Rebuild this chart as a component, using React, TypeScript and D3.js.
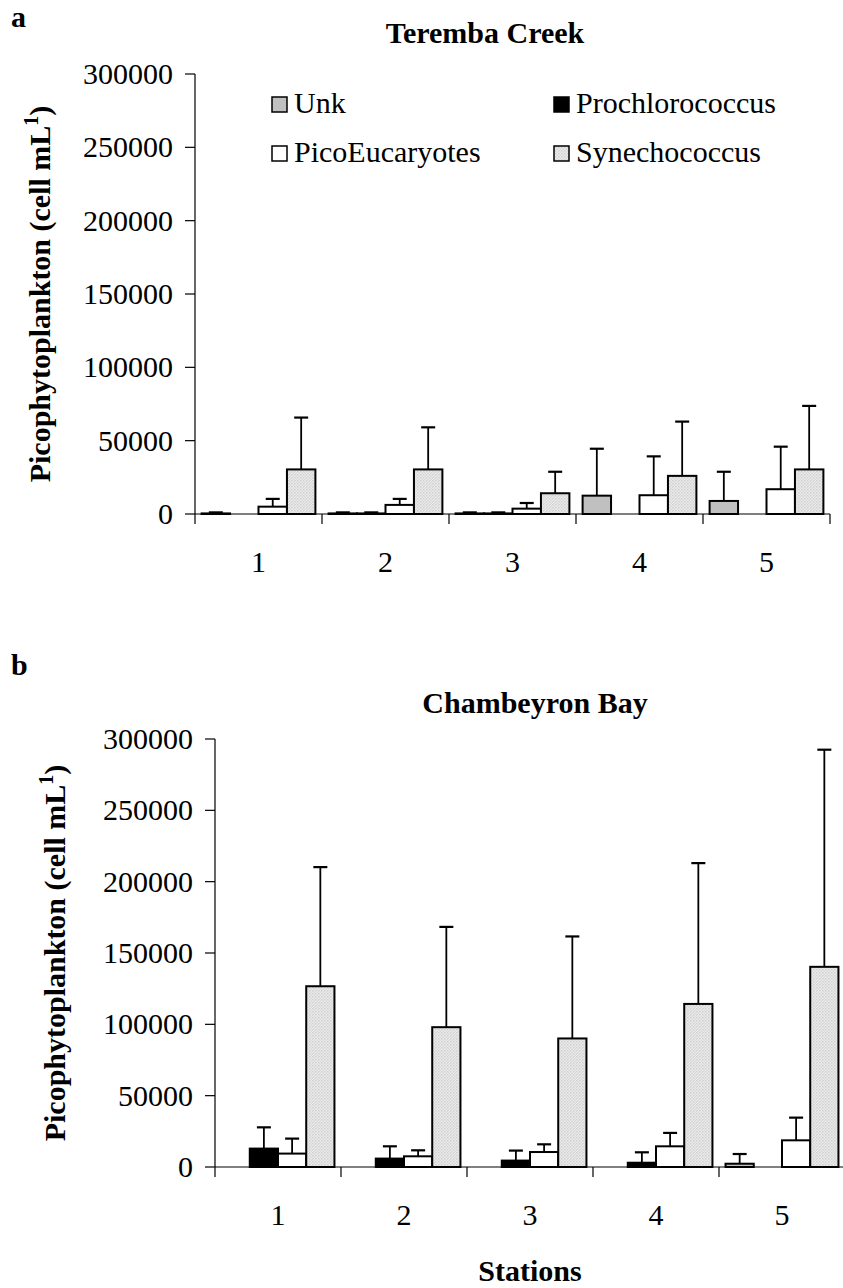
// Picophytoplankton abundance per station, two panels with upward SD bars
import React from 'react';
import * as d3 from 'd3';

const STATIONS = ['1', '2', '3', '4', '5'];
const SERIES = ['Unk', 'Prochlorococcus', 'PicoEucaryotes', 'Synechococcus'];
const Y_TICKS = [0, 50000, 100000, 150000, 200000, 250000, 300000];

// panel a - Teremba Creek (mean, sd)
const TEREMBA_UNK = [400, 400, 400, 12500, 8900];
const TEREMBA_UNK_SD = [700, 700, 700, 32000, 19900];
const TEREMBA_PRO = [0, 400, 400, 0, 0];
const TEREMBA_PRO_SD = [0, 700, 700, 0, 0];
const TEREMBA_PICO = [5000, 6200, 3650, 12800, 16900];
const TEREMBA_PICO_SD = [5300, 4100, 3850, 26500, 29000];
const TEREMBA_SYN = [30400, 30400, 14150, 26000, 30400];
const TEREMBA_SYN_SD = [35350, 28700, 14650, 37000, 43300];

// panel b - Chambeyron Bay
const CHAMB_UNK = [0, 0, 0, 0, 2300];
const CHAMB_UNK_SD = [0, 0, 0, 0, 6800];
const CHAMB_PRO = [12900, 5900, 4500, 3000, 0];
const CHAMB_PRO_SD = [14900, 8600, 7000, 7300, 0];
const CHAMB_PICO = [9400, 7500, 10500, 14500, 18700];
const CHAMB_PICO_SD = [10500, 4200, 5400, 9400, 15900];
const CHAMB_SYN = [126700, 98000, 90100, 114300, 140300];
const CHAMB_SYN_SD = [83500, 70300, 71500, 98700, 152200];

const FILLS: Record<string, string> = {
  Unk: '#c0c0c0',
  Prochlorococcus: '#000000',
  PicoEucaryotes: '#ffffff',
  Synechococcus: 'url(#synDots)',
};

const FONT = '"Liberation Serif", "Times New Roman", serif';

type Row = { station: string; series: string; value: number; sd: number };

function buildRows(vals: number[][], sds: number[][]): Row[] {
  const rows: Row[] = [];
  STATIONS.forEach((st, i) => {
    SERIES.forEach((s, j) => {
      rows.push({ station: st, series: s, value: vals[j][i], sd: sds[j][i] });
    });
  });
  return rows;
}

const TEREMBA_ROWS = buildRows(
  [TEREMBA_UNK, TEREMBA_PRO, TEREMBA_PICO, TEREMBA_SYN],
  [TEREMBA_UNK_SD, TEREMBA_PRO_SD, TEREMBA_PICO_SD, TEREMBA_SYN_SD]
);
const CHAMB_ROWS = buildRows(
  [CHAMB_UNK, CHAMB_PRO, CHAMB_PICO, CHAMB_SYN],
  [CHAMB_UNK_SD, CHAMB_PRO_SD, CHAMB_PICO_SD, CHAMB_SYN_SD]
);

function Panel({ rows, left, right, top, bottom, title, titleX, titleY, letter, letterY, yLabelX, legend }: any) {
  const x0 = d3.scaleBand().domain(STATIONS).range([left, right]).padding(0);
  const x1 = d3.scaleBand().domain(SERIES).range([0, x0.bandwidth()]).paddingInner(0).paddingOuter(0.232);
  const y = d3.scaleLinear().domain([0, 300000]).range([bottom, top]);
  const cap = 7;
  const yMid = (top + bottom) / 2;

  return (
    <g>
      <text x={11} y={letterY} fontFamily={FONT} fontWeight="bold" fontSize={30}>{letter}</text>
      <text x={titleX} y={titleY} textAnchor="middle" fontFamily={FONT} fontWeight="bold" fontSize={30}>{title}</text>

      {/* y axis */}
      <line x1={left} x2={left} y1={top} y2={bottom} stroke="#000" strokeWidth={1.2} />
      {Y_TICKS.map(t => (
        <g key={t}>
          <line x1={left - 10} x2={left} y1={y(t)} y2={y(t)} stroke="#000" strokeWidth={1.2} />
          <text x={left - 22} y={y(t) + 10} textAnchor="end" fontFamily={FONT} fontSize={30}>{t}</text>
        </g>
      ))}
      <text
        transform={`translate(${yLabelX}, ${yMid}) rotate(-90)`}
        textAnchor="middle"
        fontFamily={FONT}
        fontWeight="bold"
        fontSize={30}
      >
        Picophytoplankton (cell mL<tspan fontSize={20} dy={-12}>1</tspan><tspan dy={12}>)</tspan>
      </text>

      {/* bars */}
      {rows.map((r: Row, i: number) => {
        const bx = (x0(r.station) as number) + (x1(r.series) as number);
        const w = x1.bandwidth();
        const cx = bx + w / 2;
        return (
          <g key={i}>
            {r.sd > 0 && (
              <g stroke="#000" strokeWidth={1.8}>
                <line x1={cx} x2={cx} y1={y(r.value)} y2={y(r.value + r.sd)} />
                <line x1={cx - cap} x2={cx + cap} y1={y(r.value + r.sd)} y2={y(r.value + r.sd)} strokeWidth={2.2} />
              </g>
            )}
            <rect
              x={bx}
              y={y(r.value)}
              width={w}
              height={bottom - y(r.value)}
              fill={FILLS[r.series]}
              stroke="#000"
              strokeWidth={r.value > 0 ? 2 : 0.8}
            />
          </g>
        );
      })}

      {/* x axis */}
      <line x1={left} x2={right} y1={bottom} y2={bottom} stroke="#000" strokeWidth={1.2} />
      {STATIONS.concat(['end']).map((s, i) => {
        const tx = i < STATIONS.length ? (x0(s) as number) : right;
        return <line key={s} x1={tx} x2={tx} y1={bottom} y2={bottom + 10} stroke="#000" strokeWidth={1.2} />;
      })}
      {STATIONS.map(s => (
        <text
          key={s}
          x={(x0(s) as number) + x0.bandwidth() / 2}
          y={bottom + 58}
          textAnchor="middle"
          fontFamily={FONT}
          fontSize={30}
        >
          {s}
        </text>
      ))}

      {legend && (
        <g fontFamily={FONT} fontSize={30}>
          {SERIES.map((s, i) => {
            const lx = i % 2 === 0 ? 272 : 554;
            const ly = i < 2 ? 113 : 162;
            return (
              <g key={s}>
                <rect x={lx} y={ly - 16} width={15} height={15} fill={FILLS[s]} stroke="#000" strokeWidth={1.5} />
                <text x={lx + 22} y={ly}>{s}</text>
              </g>
            );
          })}
        </g>
      )}
    </g>
  );
}

export default function App() {
  return (
    <svg
      width={843}
      height={1288}
      style={{ position: 'absolute', left: 0, top: 0, background: '#fff' }}
    >
      <defs>
        <pattern id="synDots" width={3} height={3} patternUnits="userSpaceOnUse">
          <rect width={3} height={3} fill="#ececec" />
          <rect width={1.5} height={1.5} fill="#cfcfcf" />
          <rect x={1.5} y={1.5} width={1.5} height={1.5} fill="#d8d8d8" />
        </pattern>
      </defs>
      <rect width={843} height={1288} fill="#fff" />
      <Panel
        rows={TEREMBA_ROWS}
        left={195}
        right={830}
        top={74}
        bottom={514}
        title="Teremba Creek"
        titleX={485}
        titleY={43}
        letter="a"
        letterY={27}
        yLabelX={50}
        legend
      />
      <Panel
        rows={CHAMB_ROWS}
        left={215}
        right={845}
        top={739}
        bottom={1167}
        title="Chambeyron Bay"
        titleX={535}
        titleY={713}
        letter="b"
        letterY={675}
        yLabelX={65}
        legend={false}
      />
      <text x={530} y={1281} textAnchor="middle" fontFamily={FONT} fontWeight="bold" fontSize={30}>Stations</text>
    </svg>
  );
}
